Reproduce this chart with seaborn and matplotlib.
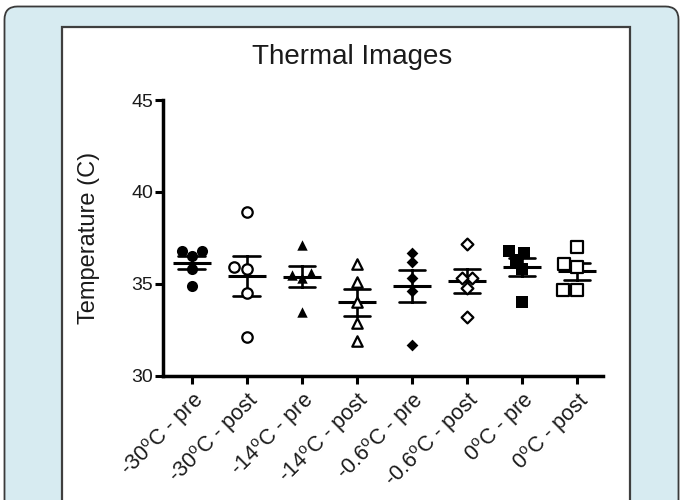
"""
Thermal images scatter: individual temperatures with mean and SEM per condition.
"""

import matplotlib
matplotlib.use("Agg")
import matplotlib.pyplot as plt
from matplotlib.patches import FancyBboxPatch, Rectangle
import numpy as np
import pandas as pd
import seaborn as sns

# Conditions shown on the x axis
groups = ["-30C pre", "-30C post", "-14C pre", "-14C post",
          "-0.6C pre", "-0.6C post", "0C pre", "0C post"]
tick_labels = [r"-30$^{\rm o}$C - pre", r"-30$^{\rm o}$C - post",
               r"-14$^{\rm o}$C - pre", r"-14$^{\rm o}$C - post",
               r"-0.6$^{\rm o}$C - pre", r"-0.6$^{\rm o}$C - post",
               r"0$^{\rm o}$C - pre", r"0$^{\rm o}$C - post"]

# Temperatures (C)
temp_m30_pre = [36.8, 36.8, 36.5, 35.8, 34.9]
temp_m30_post = [38.9, 35.9, 35.8, 34.5, 32.1]
temp_m14_pre = [37.1, 35.6, 35.5, 35.3, 33.5]
temp_m14_post = [36.1, 35.1, 34.0, 32.9, 31.9]
temp_m06_pre = [36.7, 36.2, 35.3, 34.6, 31.7]
temp_m06_post = [37.2, 35.3, 35.3, 34.8, 33.2]
temp_0_pre = [36.8, 36.7, 36.3, 35.8, 34.0]
temp_0_post = [37.0, 36.1, 35.9, 34.7, 34.7]

all_temps = [temp_m30_pre, temp_m30_post, temp_m14_pre, temp_m14_post,
             temp_m06_pre, temp_m06_post, temp_0_pre, temp_0_post]

df = pd.DataFrame({
    "group": np.repeat(groups, [len(t) for t in all_temps]),
    "temp": np.concatenate(all_temps),
})

# marker, filled?, size (pt)
marker_styles = [("o", True, 8), ("o", False, 7.5), ("^", True, 7.5), ("^", False, 7.5),
                 ("D", True, 6), ("D", False, 6), ("s", True, 8), ("s", False, 8)]

sns.set_style("white")
plt.rcParams["font.family"] = ["Liberation Sans", "DejaVu Sans"]
plt.rcParams["mathtext.fontset"] = "custom"
plt.rcParams["mathtext.rm"] = "Liberation Sans"

W, H = 683, 500
fig = plt.figure(figsize=(W / 100, H / 100), dpi=100, facecolor="white")

# Page background: rounded light-blue card + white panel
bg = fig.add_axes([0, 0, 1, 1])
bg.set_xlim(0, W)
bg.set_ylim(H, 0)
bg.axis("off")
bg.add_patch(FancyBboxPatch((4.5, 6.5), 674, 520, boxstyle="round,pad=0,rounding_size=13",
                            facecolor="#d7ebf1", edgecolor="#3a3a3a", linewidth=1.3))
bg.add_patch(Rectangle((61.5, 26.5), 568.5, 500, facecolor="white",
                       edgecolor="#3f3f3f", linewidth=1.6))

ax = fig.add_axes([163 / W, 1 - 376 / H, 440 / W, 276 / H])
ax.set_facecolor("none")

for name, vals, (mk, filled, sz) in zip(groups, all_temps, marker_styles):
    sub = df[df["group"] == name]
    if filled:
        sns.swarmplot(data=sub, x="group", y="temp", order=groups, ax=ax,
                      marker=mk, size=sz, color="black", linewidth=0)
    else:
        sns.swarmplot(data=sub, x="group", y="temp", order=groups, ax=ax,
                      marker=mk, size=sz, color="white", edgecolor="black", linewidth=1.6)

# Mean +/- SEM
sns.pointplot(data=df, x="group", y="temp", order=groups, ax=ax,
              errorbar="se", capsize=0.48, color="black", markers="_",
              linestyle="none", markersize=28, markeredgewidth=2.2,
              err_kws={"linewidth": 1.9})

ax.set_xlim(-0.52, 7.47)
ax.set_ylim(30, 45)
ax.set_yticks([30, 35, 40, 45])
ax.set_xticks(range(len(groups)))
ax.set_xticklabels(tick_labels, rotation=45, ha="right", rotation_mode="anchor")
ax.tick_params(axis="both", direction="out", length=5.5, width=2.2,
               color="black", labelcolor="#1a1a1a", left=True, bottom=True, pad=1.5)
ax.tick_params(axis="y", labelsize=14)
ax.tick_params(axis="x", labelsize=15.5, pad=3)
for s in ["top", "right"]:
    ax.spines[s].set_visible(False)
for s in ["left", "bottom"]:
    ax.spines[s].set_linewidth(2.5)
    ax.spines[s].set_color("black")

ax.set_xlabel("")
ax.set_ylabel("Temperature (C)", fontsize=17, color="#1a1a1a")
ax.yaxis.set_label_coords(-0.143, 0.5)

fig.text(352 / W, 1 - 57 / H, "Thermal Images", fontsize=20, ha="center", va="center",
         color="#1a1a1a")

fig.savefig("out.png", dpi=100)
plt.close(fig)
